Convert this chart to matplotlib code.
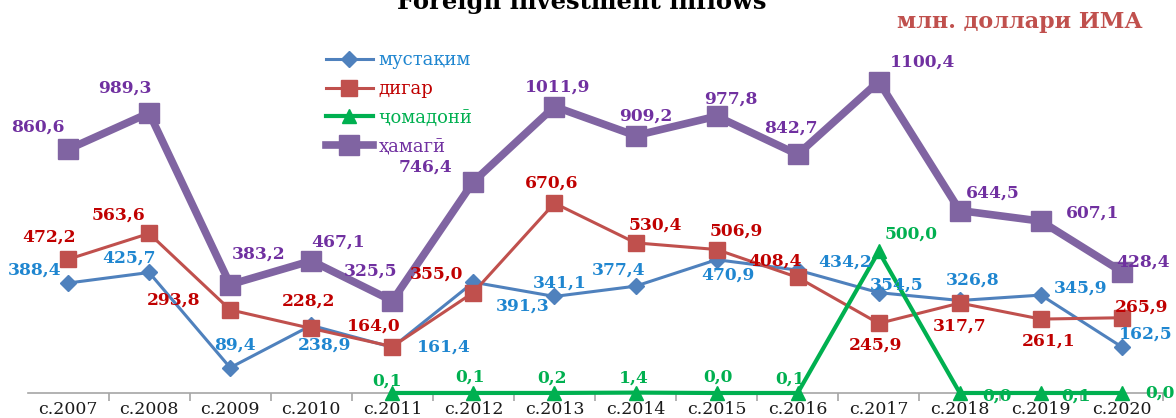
import numpy as np
import matplotlib
matplotlib.use("Agg")
import matplotlib.pyplot as plt

# Inflow data, mln USD
years = ["с.2007", "с.2008", "с.2009", "с.2010", "с.2011", "с.2012", "с.2013",
         "с.2014", "с.2015", "с.2016", "с.2017", "с.2018", "с.2019", "с.2020"]
direct = [388.4, 425.7, 89.4, 238.9, 161.4, 391.3, 341.1,
          377.4, 470.9, 434.2, 354.5, 326.8, 345.9, 162.5]
other = [472.2, 563.6, 293.8, 228.2, 164.0, 355.0, 670.6,
         530.4, 506.9, 408.4, 245.9, 317.7, 261.1, 265.9]
portfolio = [np.nan, np.nan, np.nan, np.nan, 0.1, 0.1, 0.2,
             1.4, 0.0, 0.1, 500.0, 0.0, 0.1, 0.0]
total = [860.6, 989.3, 383.2, 467.1, 325.5, 746.4, 1011.9,
         909.2, 977.8, 842.7, 1100.4, 644.5, 607.1, 428.4]
series_names = ["мустақим", "дигар", "ҷомадонӣ", "ҳамагӣ"]

# label offsets from each marker, in pixels
off_direct = [(-33, 13), (-20, 14), (5, 23), (13, -20), (51, 0), (49, -24), (5, 13),
              (-17, 16), (11, -15), (47, 8), (18, 8), (13, 20), (40, 7), (24, 13)]
off_other = [(-19, 22), (-31, 18), (-57, 10), (-3, 27), (-19, 20), (-37, 18), (-3, 20),
             (20, 18), (20, 18), (-23, 16), (-3, -22), (0, -23), (8, -22), (20, 11)]
off_port = [(0, 0)] * 4 + [(-5, 12), (-3, 16), (-2, 15), (-2, 15), (1, 16), (-8, 14),
                            (32, 17), (37, -3), (35, -3), (38, 0)]
off_total = [(-30, 22), (-24, 25), (28, 30), (27, 19), (-22, 30), (-48, 15), (3, 19),
             (10, 20), (14, 17), (-7, 26), (44, 19), (33, 17), (52, 8), (21, 10)]

serif = "DejaVu Serif"
fig = plt.figure(figsize=(11.76, 4.18), dpi=100)
ax = fig.add_axes([27.5 / 1176, 25 / 418, 1135 / 1176, 368 / 418])
x = np.arange(len(years))

styles = [
    (direct, "#4f81bd", "D", 8, 2.2, 3, "#1f86d0", off_direct),
    (other, "#c0504d", "s", 12, 2.2, 4, "#c00000", off_other),
    (portfolio, "#00b050", "^", 10, 3.0, 5, "#00b050", off_port),
    (total, "#8064a2", "s", 15, 5.5, 2, "#7030a0", off_total),
]
for (vals, col, mk, ms, lw, z, tcol, offs), name in zip(styles, series_names):
    ax.plot(x, vals, color=col, marker=mk, markersize=ms, linewidth=lw,
            zorder=z, label=name, clip_on=False)
    for xi, v, (dx, dy) in zip(x, vals, offs):
        if np.isnan(v):
            continue
        ax.annotate(f"{v:.1f}".replace(".", ","), (xi, v), xytext=(dx, dy),
                    textcoords="offset pixels", ha="center", va="center",
                    color=tcol, fontsize=12.3, fontweight="bold", family=serif,
                    zorder=6)

ax.set_xlim(-0.5, len(years) - 0.5)
ax.set_ylim(0, 1300)
ax.set_yticks([])
for s in ["left", "right", "top"]:
    ax.spines[s].set_visible(False)
ax.spines["bottom"].set_color("#a6a6a6")
ax.spines["bottom"].set_linewidth(1.2)
ax.set_xticks(x + 0.5)
ax.set_xticklabels([])
ax.tick_params(axis="x", length=6, color="#a6a6a6", width=1.2)
for xi, lab in zip(x, years):
    ax.annotate(lab, (xi, 0), xytext=(0, -17), textcoords="offset pixels",
                ha="center", va="center", fontsize=12.5, family=serif,
                color="#1a1a1a", annotation_clip=False)

leg = ax.legend(loc="upper left", bbox_to_anchor=(326 / 1176, 1 - 51 / 418),
                bbox_transform=fig.transFigure, frameon=False,
                prop={"family": serif, "size": 13},
                labelcolor=["#1f86d0", "#c00000", "#00b050", "#7030a0"],
                handlelength=2.6, labelspacing=0.6, handletextpad=0.3,
                borderaxespad=0, borderpad=0)

fig.text(582 / 1176, 1 - 9 / 418, "Foreign investment inflows", ha="center",
         va="baseline", fontsize=17.5, fontweight="bold", family=serif)
fig.text(1020 / 1176, 1 - 22 / 418, "млн. доллари ИМА", ha="center",
         va="center", fontsize=16, fontweight="bold", family=serif,
         color="#c0504d")

fig.savefig("out.png", dpi=100)
